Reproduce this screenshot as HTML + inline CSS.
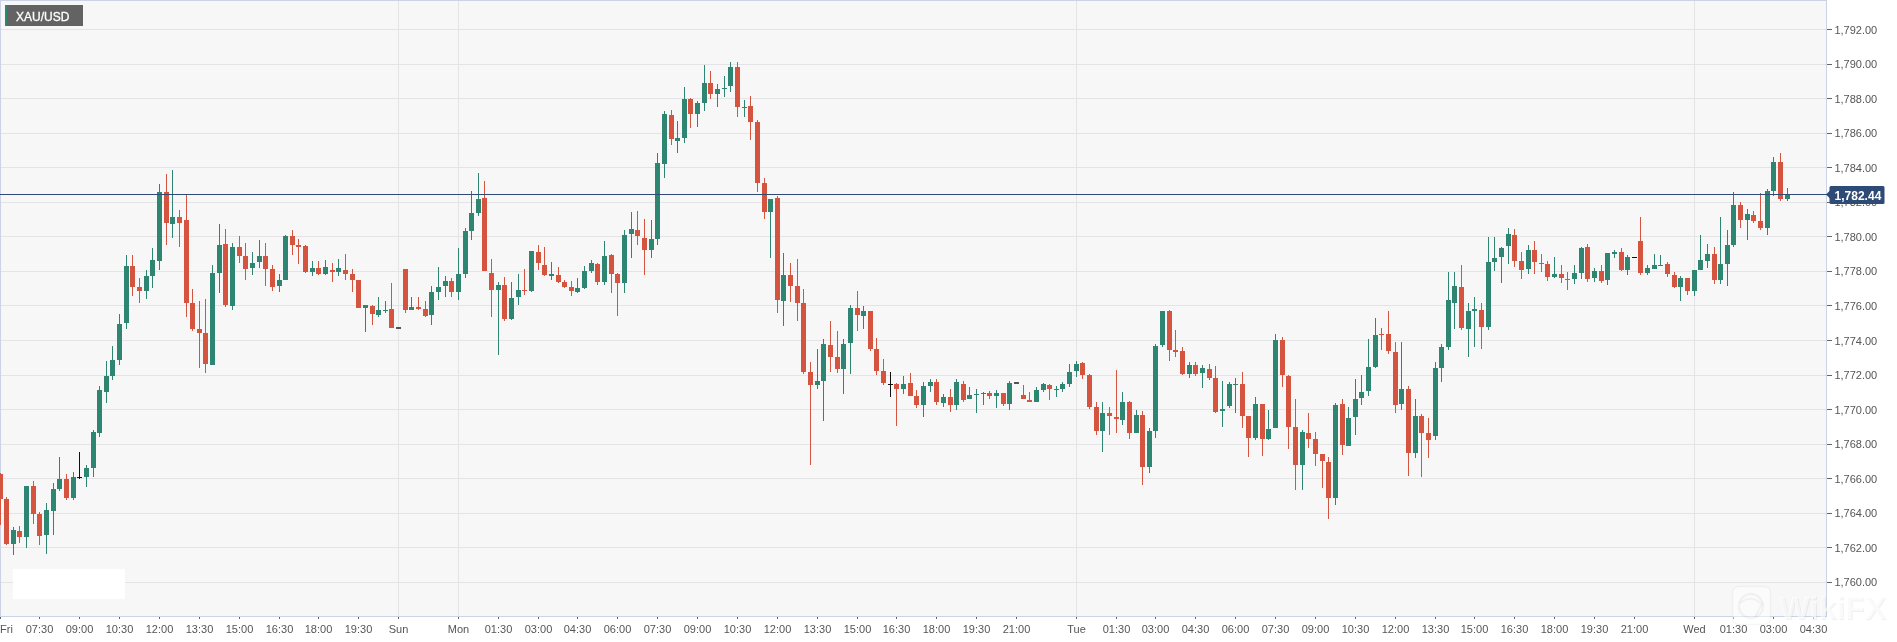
<!DOCTYPE html><html><head><meta charset="utf-8"><title>XAU/USD</title>
<style>
html,body{margin:0;padding:0;background:#fff;}
body{width:1897px;height:642px;overflow:hidden;position:relative;font-family:"Liberation Sans",sans-serif;}
svg{position:absolute;left:0;top:0;will-change:transform;}
text{font-family:"Liberation Sans",sans-serif;}
</style></head><body>
<svg width="1897" height="642" viewBox="0 0 1897 642">
<rect x="0" y="0" width="1827" height="617" fill="#f7f7f7"/>
<g stroke="#e4e4e7" stroke-width="1" shape-rendering="crispEdges">
<line x1="0" y1="29.5" x2="1826" y2="29.5"/>
<line x1="0" y1="64.5" x2="1826" y2="64.5"/>
<line x1="0" y1="98.5" x2="1826" y2="98.5"/>
<line x1="0" y1="133.5" x2="1826" y2="133.5"/>
<line x1="0" y1="167.5" x2="1826" y2="167.5"/>
<line x1="0" y1="202.5" x2="1826" y2="202.5"/>
<line x1="0" y1="236.5" x2="1826" y2="236.5"/>
<line x1="0" y1="271.5" x2="1826" y2="271.5"/>
<line x1="0" y1="305.5" x2="1826" y2="305.5"/>
<line x1="0" y1="340.5" x2="1826" y2="340.5"/>
<line x1="0" y1="375.5" x2="1826" y2="375.5"/>
<line x1="0" y1="409.5" x2="1826" y2="409.5"/>
<line x1="0" y1="444.5" x2="1826" y2="444.5"/>
<line x1="0" y1="478.5" x2="1826" y2="478.5"/>
<line x1="0" y1="513.5" x2="1826" y2="513.5"/>
<line x1="0" y1="547.5" x2="1826" y2="547.5"/>
<line x1="0" y1="582.5" x2="1826" y2="582.5"/>
<line x1="398.5" y1="0" x2="398.5" y2="616"/>
<line x1="458.5" y1="0" x2="458.5" y2="616"/>
<line x1="1076.5" y1="0" x2="1076.5" y2="616"/>
<line x1="1694.5" y1="0" x2="1694.5" y2="616"/>
</g>
<rect x="13" y="569" width="112" height="30" fill="#ffffff"/>
<g fill="#cdd3e6">
<rect x="0" y="0" width="1827" height="1"/>
<rect x="0" y="0" width="1" height="617"/>
<rect x="1826" y="0" width="1" height="617"/>
<rect x="0" y="616" width="1827" height="1"/>
</g>
<rect x="0" y="473" width="1" height="52" fill="#d4543f"/>
<rect x="-2" y="474" width="5" height="25" fill="#d4543f"/>
<rect x="6" y="497" width="1" height="48" fill="#d4543f"/>
<rect x="4" y="499" width="5" height="45" fill="#d4543f"/>
<rect x="13" y="527" width="1" height="28" fill="#2e8672"/>
<rect x="11" y="530" width="5" height="14" fill="#2e8672"/>
<rect x="19" y="526" width="1" height="17" fill="#d4543f"/>
<rect x="17" y="531" width="5" height="6" fill="#d4543f"/>
<rect x="26" y="486" width="1" height="62" fill="#2e8672"/>
<rect x="24" y="486" width="5" height="51" fill="#2e8672"/>
<rect x="33" y="481" width="1" height="43" fill="#d4543f"/>
<rect x="31" y="486" width="5" height="28" fill="#d4543f"/>
<rect x="39" y="512" width="1" height="33" fill="#d4543f"/>
<rect x="37" y="514" width="5" height="22" fill="#d4543f"/>
<rect x="46" y="503" width="1" height="51" fill="#2e8672"/>
<rect x="44" y="510" width="5" height="25" fill="#2e8672"/>
<rect x="53" y="483" width="1" height="52" fill="#2e8672"/>
<rect x="51" y="489" width="5" height="22" fill="#2e8672"/>
<rect x="59" y="457" width="1" height="34" fill="#2e8672"/>
<rect x="57" y="479" width="5" height="10" fill="#2e8672"/>
<rect x="66" y="474" width="1" height="26" fill="#d4543f"/>
<rect x="64" y="479" width="5" height="19" fill="#d4543f"/>
<rect x="73" y="472" width="1" height="28" fill="#2e8672"/>
<rect x="71" y="477" width="5" height="21" fill="#2e8672"/>
<rect x="79" y="452" width="1" height="27" fill="#111111"/>
<rect x="77" y="477" width="5" height="1" fill="#111111"/>
<rect x="86" y="465" width="1" height="22" fill="#2e8672"/>
<rect x="84" y="468" width="5" height="9" fill="#2e8672"/>
<rect x="93" y="430" width="1" height="47" fill="#2e8672"/>
<rect x="91" y="432" width="5" height="36" fill="#2e8672"/>
<rect x="99" y="386" width="1" height="51" fill="#2e8672"/>
<rect x="97" y="390" width="5" height="43" fill="#2e8672"/>
<rect x="106" y="361" width="1" height="42" fill="#2e8672"/>
<rect x="104" y="376" width="5" height="16" fill="#2e8672"/>
<rect x="112" y="346" width="1" height="34" fill="#2e8672"/>
<rect x="110" y="360" width="5" height="16" fill="#2e8672"/>
<rect x="119" y="314" width="1" height="51" fill="#2e8672"/>
<rect x="117" y="324" width="5" height="36" fill="#2e8672"/>
<rect x="126" y="255" width="1" height="74" fill="#2e8672"/>
<rect x="124" y="266" width="5" height="57" fill="#2e8672"/>
<rect x="132" y="255" width="1" height="41" fill="#d4543f"/>
<rect x="130" y="266" width="5" height="21" fill="#d4543f"/>
<rect x="139" y="278" width="1" height="25" fill="#d4543f"/>
<rect x="137" y="287" width="5" height="4" fill="#d4543f"/>
<rect x="146" y="270" width="1" height="29" fill="#2e8672"/>
<rect x="144" y="276" width="5" height="15" fill="#2e8672"/>
<rect x="152" y="248" width="1" height="40" fill="#2e8672"/>
<rect x="150" y="260" width="5" height="16" fill="#2e8672"/>
<rect x="159" y="184" width="1" height="86" fill="#2e8672"/>
<rect x="157" y="192" width="5" height="69" fill="#2e8672"/>
<rect x="166" y="174" width="1" height="71" fill="#d4543f"/>
<rect x="164" y="192" width="5" height="31" fill="#d4543f"/>
<rect x="172" y="170" width="1" height="68" fill="#2e8672"/>
<rect x="170" y="217" width="5" height="7" fill="#2e8672"/>
<rect x="179" y="210" width="1" height="37" fill="#d4543f"/>
<rect x="177" y="217" width="5" height="6" fill="#d4543f"/>
<rect x="186" y="195" width="1" height="122" fill="#d4543f"/>
<rect x="184" y="220" width="5" height="83" fill="#d4543f"/>
<rect x="192" y="289" width="1" height="42" fill="#d4543f"/>
<rect x="190" y="303" width="5" height="26" fill="#d4543f"/>
<rect x="199" y="301" width="1" height="67" fill="#d4543f"/>
<rect x="197" y="329" width="5" height="4" fill="#d4543f"/>
<rect x="205" y="299" width="1" height="74" fill="#d4543f"/>
<rect x="203" y="333" width="5" height="31" fill="#d4543f"/>
<rect x="212" y="265" width="1" height="100" fill="#2e8672"/>
<rect x="210" y="273" width="5" height="92" fill="#2e8672"/>
<rect x="219" y="224" width="1" height="69" fill="#2e8672"/>
<rect x="217" y="245" width="5" height="28" fill="#2e8672"/>
<rect x="225" y="229" width="1" height="78" fill="#d4543f"/>
<rect x="223" y="244" width="5" height="61" fill="#d4543f"/>
<rect x="232" y="243" width="1" height="67" fill="#2e8672"/>
<rect x="230" y="247" width="5" height="59" fill="#2e8672"/>
<rect x="239" y="236" width="1" height="27" fill="#d4543f"/>
<rect x="237" y="247" width="5" height="9" fill="#d4543f"/>
<rect x="245" y="243" width="1" height="37" fill="#d4543f"/>
<rect x="243" y="256" width="5" height="13" fill="#d4543f"/>
<rect x="252" y="252" width="1" height="23" fill="#2e8672"/>
<rect x="250" y="263" width="5" height="5" fill="#2e8672"/>
<rect x="259" y="240" width="1" height="28" fill="#2e8672"/>
<rect x="257" y="256" width="5" height="6" fill="#2e8672"/>
<rect x="265" y="243" width="1" height="43" fill="#d4543f"/>
<rect x="263" y="256" width="5" height="13" fill="#d4543f"/>
<rect x="272" y="265" width="1" height="26" fill="#d4543f"/>
<rect x="270" y="269" width="5" height="18" fill="#d4543f"/>
<rect x="279" y="274" width="1" height="18" fill="#2e8672"/>
<rect x="277" y="280" width="5" height="6" fill="#2e8672"/>
<rect x="285" y="235" width="1" height="45" fill="#2e8672"/>
<rect x="283" y="236" width="5" height="44" fill="#2e8672"/>
<rect x="292" y="230" width="1" height="25" fill="#d4543f"/>
<rect x="290" y="236" width="5" height="9" fill="#d4543f"/>
<rect x="298" y="239" width="1" height="25" fill="#d4543f"/>
<rect x="296" y="245" width="5" height="2" fill="#d4543f"/>
<rect x="305" y="245" width="1" height="28" fill="#d4543f"/>
<rect x="303" y="246" width="5" height="26" fill="#d4543f"/>
<rect x="312" y="261" width="1" height="15" fill="#2e8672"/>
<rect x="310" y="268" width="5" height="4" fill="#2e8672"/>
<rect x="318" y="261" width="1" height="14" fill="#d4543f"/>
<rect x="316" y="268" width="5" height="6" fill="#d4543f"/>
<rect x="325" y="260" width="1" height="15" fill="#2e8672"/>
<rect x="323" y="267" width="5" height="7" fill="#2e8672"/>
<rect x="332" y="263" width="1" height="19" fill="#d4543f"/>
<rect x="330" y="270" width="5" height="2" fill="#d4543f"/>
<rect x="338" y="259" width="1" height="17" fill="#2e8672"/>
<rect x="336" y="268" width="5" height="4" fill="#2e8672"/>
<rect x="345" y="254" width="1" height="26" fill="#d4543f"/>
<rect x="343" y="270" width="5" height="4" fill="#d4543f"/>
<rect x="352" y="269" width="1" height="23" fill="#d4543f"/>
<rect x="350" y="274" width="5" height="6" fill="#d4543f"/>
<rect x="358" y="280" width="1" height="28" fill="#d4543f"/>
<rect x="356" y="280" width="5" height="28" fill="#d4543f"/>
<rect x="365" y="305" width="1" height="27" fill="#2e8672"/>
<rect x="363" y="305" width="5" height="3" fill="#2e8672"/>
<rect x="372" y="305" width="1" height="20" fill="#d4543f"/>
<rect x="370" y="306" width="5" height="8" fill="#d4543f"/>
<rect x="378" y="297" width="1" height="20" fill="#2e8672"/>
<rect x="376" y="310" width="5" height="5" fill="#2e8672"/>
<rect x="385" y="301" width="1" height="12" fill="#2e8672"/>
<rect x="383" y="310" width="5" height="1" fill="#2e8672"/>
<rect x="391" y="283" width="1" height="45" fill="#d4543f"/>
<rect x="389" y="309" width="5" height="19" fill="#d4543f"/>
<rect x="396" y="327" width="5" height="2" fill="#555555"/>
<rect x="405" y="269" width="1" height="44" fill="#d4543f"/>
<rect x="403" y="269" width="5" height="41" fill="#d4543f"/>
<rect x="411" y="297" width="1" height="13" fill="#2e8672"/>
<rect x="409" y="307" width="5" height="3" fill="#2e8672"/>
<rect x="418" y="297" width="1" height="13" fill="#d4543f"/>
<rect x="416" y="307" width="5" height="2" fill="#d4543f"/>
<rect x="425" y="301" width="1" height="16" fill="#d4543f"/>
<rect x="423" y="309" width="5" height="7" fill="#d4543f"/>
<rect x="431" y="286" width="1" height="39" fill="#2e8672"/>
<rect x="429" y="292" width="5" height="23" fill="#2e8672"/>
<rect x="438" y="267" width="1" height="33" fill="#2e8672"/>
<rect x="436" y="287" width="5" height="5" fill="#2e8672"/>
<rect x="445" y="276" width="1" height="21" fill="#2e8672"/>
<rect x="443" y="281" width="5" height="5" fill="#2e8672"/>
<rect x="451" y="278" width="1" height="19" fill="#d4543f"/>
<rect x="449" y="281" width="5" height="11" fill="#d4543f"/>
<rect x="458" y="248" width="1" height="52" fill="#2e8672"/>
<rect x="456" y="274" width="5" height="18" fill="#2e8672"/>
<rect x="465" y="228" width="1" height="50" fill="#2e8672"/>
<rect x="463" y="231" width="5" height="43" fill="#2e8672"/>
<rect x="471" y="191" width="1" height="49" fill="#2e8672"/>
<rect x="469" y="213" width="5" height="18" fill="#2e8672"/>
<rect x="478" y="173" width="1" height="43" fill="#2e8672"/>
<rect x="476" y="199" width="5" height="14" fill="#2e8672"/>
<rect x="484" y="181" width="1" height="90" fill="#d4543f"/>
<rect x="482" y="198" width="5" height="73" fill="#d4543f"/>
<rect x="491" y="259" width="1" height="58" fill="#d4543f"/>
<rect x="489" y="273" width="5" height="17" fill="#d4543f"/>
<rect x="498" y="282" width="1" height="73" fill="#2e8672"/>
<rect x="496" y="285" width="5" height="5" fill="#2e8672"/>
<rect x="504" y="277" width="1" height="44" fill="#d4543f"/>
<rect x="502" y="285" width="5" height="34" fill="#d4543f"/>
<rect x="511" y="282" width="1" height="38" fill="#2e8672"/>
<rect x="509" y="298" width="5" height="21" fill="#2e8672"/>
<rect x="518" y="274" width="1" height="31" fill="#2e8672"/>
<rect x="516" y="290" width="5" height="7" fill="#2e8672"/>
<rect x="524" y="269" width="1" height="26" fill="#d4543f"/>
<rect x="522" y="290" width="5" height="1" fill="#d4543f"/>
<rect x="531" y="251" width="1" height="41" fill="#2e8672"/>
<rect x="529" y="251" width="5" height="40" fill="#2e8672"/>
<rect x="538" y="245" width="1" height="25" fill="#d4543f"/>
<rect x="536" y="252" width="5" height="11" fill="#d4543f"/>
<rect x="544" y="247" width="1" height="29" fill="#d4543f"/>
<rect x="542" y="265" width="5" height="10" fill="#d4543f"/>
<rect x="551" y="262" width="1" height="18" fill="#2e8672"/>
<rect x="549" y="274" width="5" height="2" fill="#2e8672"/>
<rect x="558" y="267" width="1" height="16" fill="#d4543f"/>
<rect x="556" y="275" width="5" height="7" fill="#d4543f"/>
<rect x="564" y="280" width="1" height="8" fill="#d4543f"/>
<rect x="562" y="282" width="5" height="5" fill="#d4543f"/>
<rect x="571" y="281" width="1" height="15" fill="#d4543f"/>
<rect x="569" y="287" width="5" height="4" fill="#d4543f"/>
<rect x="577" y="278" width="1" height="15" fill="#2e8672"/>
<rect x="575" y="288" width="5" height="4" fill="#2e8672"/>
<rect x="584" y="266" width="1" height="23" fill="#2e8672"/>
<rect x="582" y="271" width="5" height="17" fill="#2e8672"/>
<rect x="591" y="260" width="1" height="13" fill="#2e8672"/>
<rect x="589" y="263" width="5" height="8" fill="#2e8672"/>
<rect x="597" y="263" width="1" height="22" fill="#d4543f"/>
<rect x="595" y="264" width="5" height="18" fill="#d4543f"/>
<rect x="604" y="241" width="1" height="44" fill="#2e8672"/>
<rect x="602" y="256" width="5" height="26" fill="#2e8672"/>
<rect x="611" y="254" width="1" height="39" fill="#d4543f"/>
<rect x="609" y="255" width="5" height="19" fill="#d4543f"/>
<rect x="617" y="273" width="1" height="43" fill="#d4543f"/>
<rect x="615" y="274" width="5" height="9" fill="#d4543f"/>
<rect x="624" y="230" width="1" height="63" fill="#2e8672"/>
<rect x="622" y="235" width="5" height="48" fill="#2e8672"/>
<rect x="631" y="212" width="1" height="46" fill="#2e8672"/>
<rect x="629" y="229" width="5" height="5" fill="#2e8672"/>
<rect x="637" y="211" width="1" height="34" fill="#d4543f"/>
<rect x="635" y="230" width="5" height="6" fill="#d4543f"/>
<rect x="644" y="219" width="1" height="56" fill="#d4543f"/>
<rect x="642" y="238" width="5" height="12" fill="#d4543f"/>
<rect x="651" y="220" width="1" height="38" fill="#2e8672"/>
<rect x="649" y="239" width="5" height="11" fill="#2e8672"/>
<rect x="657" y="153" width="1" height="92" fill="#2e8672"/>
<rect x="655" y="163" width="5" height="76" fill="#2e8672"/>
<rect x="664" y="111" width="1" height="67" fill="#2e8672"/>
<rect x="662" y="114" width="5" height="50" fill="#2e8672"/>
<rect x="671" y="110" width="1" height="35" fill="#d4543f"/>
<rect x="669" y="115" width="5" height="24" fill="#d4543f"/>
<rect x="677" y="121" width="1" height="32" fill="#2e8672"/>
<rect x="675" y="138" width="5" height="3" fill="#2e8672"/>
<rect x="684" y="87" width="1" height="56" fill="#2e8672"/>
<rect x="682" y="99" width="5" height="39" fill="#2e8672"/>
<rect x="690" y="98" width="1" height="30" fill="#d4543f"/>
<rect x="688" y="99" width="5" height="15" fill="#d4543f"/>
<rect x="697" y="101" width="1" height="26" fill="#2e8672"/>
<rect x="695" y="103" width="5" height="11" fill="#2e8672"/>
<rect x="704" y="65" width="1" height="46" fill="#2e8672"/>
<rect x="702" y="83" width="5" height="20" fill="#2e8672"/>
<rect x="710" y="71" width="1" height="28" fill="#d4543f"/>
<rect x="708" y="83" width="5" height="11" fill="#d4543f"/>
<rect x="717" y="84" width="1" height="23" fill="#2e8672"/>
<rect x="715" y="89" width="5" height="5" fill="#2e8672"/>
<rect x="724" y="76" width="1" height="21" fill="#2e8672"/>
<rect x="722" y="88" width="5" height="1" fill="#2e8672"/>
<rect x="730" y="62" width="1" height="30" fill="#2e8672"/>
<rect x="728" y="67" width="5" height="19" fill="#2e8672"/>
<rect x="737" y="62" width="1" height="55" fill="#d4543f"/>
<rect x="735" y="67" width="5" height="40" fill="#d4543f"/>
<rect x="744" y="100" width="1" height="17" fill="#2e8672"/>
<rect x="742" y="107" width="5" height="1" fill="#2e8672"/>
<rect x="750" y="96" width="1" height="44" fill="#d4543f"/>
<rect x="748" y="106" width="5" height="16" fill="#d4543f"/>
<rect x="757" y="120" width="1" height="72" fill="#d4543f"/>
<rect x="755" y="122" width="5" height="61" fill="#d4543f"/>
<rect x="764" y="178" width="1" height="41" fill="#d4543f"/>
<rect x="762" y="183" width="5" height="29" fill="#d4543f"/>
<rect x="770" y="199" width="1" height="59" fill="#2e8672"/>
<rect x="768" y="199" width="5" height="13" fill="#2e8672"/>
<rect x="777" y="196" width="1" height="117" fill="#d4543f"/>
<rect x="775" y="198" width="5" height="102" fill="#d4543f"/>
<rect x="783" y="253" width="1" height="73" fill="#2e8672"/>
<rect x="781" y="275" width="5" height="26" fill="#2e8672"/>
<rect x="790" y="263" width="1" height="39" fill="#d4543f"/>
<rect x="788" y="275" width="5" height="11" fill="#d4543f"/>
<rect x="797" y="259" width="1" height="62" fill="#d4543f"/>
<rect x="795" y="286" width="5" height="17" fill="#d4543f"/>
<rect x="803" y="289" width="1" height="85" fill="#d4543f"/>
<rect x="801" y="303" width="5" height="69" fill="#d4543f"/>
<rect x="810" y="362" width="1" height="103" fill="#d4543f"/>
<rect x="808" y="372" width="5" height="13" fill="#d4543f"/>
<rect x="817" y="349" width="1" height="40" fill="#2e8672"/>
<rect x="815" y="381" width="5" height="4" fill="#2e8672"/>
<rect x="823" y="339" width="1" height="82" fill="#2e8672"/>
<rect x="821" y="344" width="5" height="37" fill="#2e8672"/>
<rect x="830" y="321" width="1" height="51" fill="#d4543f"/>
<rect x="828" y="345" width="5" height="12" fill="#d4543f"/>
<rect x="837" y="331" width="1" height="42" fill="#d4543f"/>
<rect x="835" y="357" width="5" height="12" fill="#d4543f"/>
<rect x="843" y="339" width="1" height="55" fill="#2e8672"/>
<rect x="841" y="344" width="5" height="25" fill="#2e8672"/>
<rect x="850" y="305" width="1" height="69" fill="#2e8672"/>
<rect x="848" y="308" width="5" height="35" fill="#2e8672"/>
<rect x="857" y="291" width="1" height="40" fill="#d4543f"/>
<rect x="855" y="308" width="5" height="7" fill="#d4543f"/>
<rect x="863" y="306" width="1" height="23" fill="#2e8672"/>
<rect x="861" y="311" width="5" height="5" fill="#2e8672"/>
<rect x="870" y="311" width="1" height="40" fill="#d4543f"/>
<rect x="868" y="311" width="5" height="38" fill="#d4543f"/>
<rect x="876" y="338" width="1" height="37" fill="#d4543f"/>
<rect x="874" y="349" width="5" height="22" fill="#d4543f"/>
<rect x="883" y="359" width="1" height="26" fill="#d4543f"/>
<rect x="881" y="371" width="5" height="12" fill="#d4543f"/>
<rect x="890" y="372" width="1" height="25" fill="#111111"/>
<rect x="888" y="384" width="5" height="1" fill="#111111"/>
<rect x="896" y="383" width="1" height="43" fill="#d4543f"/>
<rect x="894" y="384" width="5" height="5" fill="#d4543f"/>
<rect x="903" y="376" width="1" height="18" fill="#2e8672"/>
<rect x="901" y="384" width="5" height="5" fill="#2e8672"/>
<rect x="910" y="373" width="1" height="23" fill="#d4543f"/>
<rect x="908" y="383" width="5" height="13" fill="#d4543f"/>
<rect x="916" y="390" width="1" height="18" fill="#d4543f"/>
<rect x="914" y="396" width="5" height="9" fill="#d4543f"/>
<rect x="923" y="382" width="1" height="35" fill="#2e8672"/>
<rect x="921" y="386" width="5" height="19" fill="#2e8672"/>
<rect x="930" y="379" width="1" height="13" fill="#2e8672"/>
<rect x="928" y="382" width="5" height="4" fill="#2e8672"/>
<rect x="936" y="379" width="1" height="26" fill="#d4543f"/>
<rect x="934" y="382" width="5" height="20" fill="#d4543f"/>
<rect x="943" y="394" width="1" height="13" fill="#2e8672"/>
<rect x="941" y="397" width="5" height="6" fill="#2e8672"/>
<rect x="950" y="389" width="1" height="23" fill="#d4543f"/>
<rect x="948" y="397" width="5" height="8" fill="#d4543f"/>
<rect x="956" y="379" width="1" height="31" fill="#2e8672"/>
<rect x="954" y="382" width="5" height="23" fill="#2e8672"/>
<rect x="963" y="381" width="1" height="21" fill="#d4543f"/>
<rect x="961" y="384" width="5" height="16" fill="#d4543f"/>
<rect x="969" y="387" width="1" height="12" fill="#2e8672"/>
<rect x="967" y="395" width="5" height="4" fill="#2e8672"/>
<rect x="976" y="389" width="1" height="24" fill="#2e8672"/>
<rect x="974" y="394" width="5" height="1" fill="#2e8672"/>
<rect x="983" y="392" width="1" height="13" fill="#2e8672"/>
<rect x="981" y="393" width="5" height="1" fill="#2e8672"/>
<rect x="989" y="391" width="1" height="8" fill="#d4543f"/>
<rect x="987" y="393" width="5" height="3" fill="#d4543f"/>
<rect x="996" y="390" width="1" height="18" fill="#2e8672"/>
<rect x="994" y="393" width="5" height="3" fill="#2e8672"/>
<rect x="1003" y="393" width="1" height="13" fill="#d4543f"/>
<rect x="1001" y="393" width="5" height="11" fill="#d4543f"/>
<rect x="1009" y="381" width="1" height="29" fill="#2e8672"/>
<rect x="1007" y="383" width="5" height="21" fill="#2e8672"/>
<rect x="1014" y="382" width="5" height="2" fill="#555555"/>
<rect x="1023" y="385" width="1" height="14" fill="#d4543f"/>
<rect x="1021" y="395" width="5" height="4" fill="#d4543f"/>
<rect x="1029" y="392" width="1" height="10" fill="#d4543f"/>
<rect x="1027" y="400" width="5" height="2" fill="#d4543f"/>
<rect x="1036" y="387" width="1" height="15" fill="#2e8672"/>
<rect x="1034" y="390" width="5" height="12" fill="#2e8672"/>
<rect x="1043" y="383" width="1" height="9" fill="#2e8672"/>
<rect x="1041" y="384" width="5" height="6" fill="#2e8672"/>
<rect x="1049" y="384" width="1" height="16" fill="#d4543f"/>
<rect x="1047" y="385" width="5" height="4" fill="#d4543f"/>
<rect x="1056" y="386" width="1" height="11" fill="#2e8672"/>
<rect x="1054" y="389" width="5" height="1" fill="#2e8672"/>
<rect x="1062" y="382" width="1" height="10" fill="#2e8672"/>
<rect x="1060" y="384" width="5" height="5" fill="#2e8672"/>
<rect x="1069" y="364" width="1" height="23" fill="#2e8672"/>
<rect x="1067" y="372" width="5" height="12" fill="#2e8672"/>
<rect x="1076" y="361" width="1" height="16" fill="#2e8672"/>
<rect x="1074" y="364" width="5" height="7" fill="#2e8672"/>
<rect x="1082" y="362" width="1" height="17" fill="#d4543f"/>
<rect x="1080" y="363" width="5" height="12" fill="#d4543f"/>
<rect x="1089" y="374" width="1" height="35" fill="#d4543f"/>
<rect x="1087" y="375" width="5" height="32" fill="#d4543f"/>
<rect x="1096" y="402" width="1" height="33" fill="#d4543f"/>
<rect x="1094" y="407" width="5" height="24" fill="#d4543f"/>
<rect x="1102" y="402" width="1" height="50" fill="#2e8672"/>
<rect x="1100" y="413" width="5" height="18" fill="#2e8672"/>
<rect x="1109" y="407" width="1" height="28" fill="#d4543f"/>
<rect x="1107" y="413" width="5" height="3" fill="#d4543f"/>
<rect x="1116" y="370" width="1" height="63" fill="#d4543f"/>
<rect x="1114" y="417" width="5" height="2" fill="#d4543f"/>
<rect x="1122" y="392" width="1" height="33" fill="#2e8672"/>
<rect x="1120" y="402" width="5" height="18" fill="#2e8672"/>
<rect x="1129" y="401" width="1" height="38" fill="#d4543f"/>
<rect x="1127" y="402" width="5" height="31" fill="#d4543f"/>
<rect x="1136" y="410" width="1" height="23" fill="#2e8672"/>
<rect x="1134" y="415" width="5" height="18" fill="#2e8672"/>
<rect x="1142" y="411" width="1" height="74" fill="#d4543f"/>
<rect x="1140" y="415" width="5" height="52" fill="#d4543f"/>
<rect x="1149" y="428" width="1" height="45" fill="#2e8672"/>
<rect x="1147" y="431" width="5" height="36" fill="#2e8672"/>
<rect x="1155" y="344" width="1" height="94" fill="#2e8672"/>
<rect x="1153" y="346" width="5" height="85" fill="#2e8672"/>
<rect x="1162" y="311" width="1" height="36" fill="#2e8672"/>
<rect x="1160" y="311" width="5" height="34" fill="#2e8672"/>
<rect x="1169" y="310" width="1" height="51" fill="#d4543f"/>
<rect x="1167" y="311" width="5" height="39" fill="#d4543f"/>
<rect x="1175" y="330" width="1" height="27" fill="#d4543f"/>
<rect x="1173" y="350" width="5" height="2" fill="#d4543f"/>
<rect x="1182" y="347" width="1" height="28" fill="#d4543f"/>
<rect x="1180" y="351" width="5" height="23" fill="#d4543f"/>
<rect x="1189" y="362" width="1" height="16" fill="#2e8672"/>
<rect x="1187" y="365" width="5" height="9" fill="#2e8672"/>
<rect x="1195" y="362" width="1" height="14" fill="#d4543f"/>
<rect x="1193" y="365" width="5" height="9" fill="#d4543f"/>
<rect x="1202" y="365" width="1" height="23" fill="#2e8672"/>
<rect x="1200" y="368" width="5" height="5" fill="#2e8672"/>
<rect x="1209" y="364" width="1" height="16" fill="#d4543f"/>
<rect x="1207" y="369" width="5" height="9" fill="#d4543f"/>
<rect x="1215" y="366" width="1" height="47" fill="#d4543f"/>
<rect x="1213" y="378" width="5" height="34" fill="#d4543f"/>
<rect x="1222" y="381" width="1" height="46" fill="#2e8672"/>
<rect x="1220" y="409" width="5" height="2" fill="#2e8672"/>
<rect x="1229" y="382" width="1" height="26" fill="#2e8672"/>
<rect x="1227" y="384" width="5" height="22" fill="#2e8672"/>
<rect x="1235" y="378" width="1" height="35" fill="#2e8672"/>
<rect x="1233" y="384" width="5" height="1" fill="#2e8672"/>
<rect x="1242" y="372" width="1" height="56" fill="#d4543f"/>
<rect x="1240" y="384" width="5" height="32" fill="#d4543f"/>
<rect x="1248" y="416" width="1" height="41" fill="#d4543f"/>
<rect x="1246" y="416" width="5" height="22" fill="#d4543f"/>
<rect x="1255" y="397" width="1" height="43" fill="#2e8672"/>
<rect x="1253" y="404" width="5" height="34" fill="#2e8672"/>
<rect x="1262" y="404" width="1" height="52" fill="#d4543f"/>
<rect x="1260" y="404" width="5" height="35" fill="#d4543f"/>
<rect x="1268" y="410" width="1" height="30" fill="#2e8672"/>
<rect x="1266" y="429" width="5" height="10" fill="#2e8672"/>
<rect x="1275" y="334" width="1" height="94" fill="#2e8672"/>
<rect x="1273" y="340" width="5" height="88" fill="#2e8672"/>
<rect x="1282" y="337" width="1" height="50" fill="#d4543f"/>
<rect x="1280" y="340" width="5" height="35" fill="#d4543f"/>
<rect x="1288" y="375" width="1" height="74" fill="#d4543f"/>
<rect x="1286" y="376" width="5" height="51" fill="#d4543f"/>
<rect x="1295" y="399" width="1" height="91" fill="#d4543f"/>
<rect x="1293" y="427" width="5" height="38" fill="#d4543f"/>
<rect x="1302" y="430" width="1" height="60" fill="#2e8672"/>
<rect x="1300" y="432" width="5" height="33" fill="#2e8672"/>
<rect x="1308" y="413" width="1" height="35" fill="#d4543f"/>
<rect x="1306" y="433" width="5" height="6" fill="#d4543f"/>
<rect x="1315" y="432" width="1" height="34" fill="#d4543f"/>
<rect x="1313" y="439" width="5" height="15" fill="#d4543f"/>
<rect x="1322" y="454" width="1" height="34" fill="#d4543f"/>
<rect x="1320" y="454" width="5" height="7" fill="#d4543f"/>
<rect x="1328" y="457" width="1" height="62" fill="#d4543f"/>
<rect x="1326" y="462" width="5" height="36" fill="#d4543f"/>
<rect x="1335" y="403" width="1" height="102" fill="#2e8672"/>
<rect x="1333" y="405" width="5" height="93" fill="#2e8672"/>
<rect x="1342" y="399" width="1" height="56" fill="#d4543f"/>
<rect x="1340" y="404" width="5" height="41" fill="#d4543f"/>
<rect x="1348" y="407" width="1" height="39" fill="#2e8672"/>
<rect x="1346" y="418" width="5" height="28" fill="#2e8672"/>
<rect x="1355" y="379" width="1" height="56" fill="#2e8672"/>
<rect x="1353" y="399" width="5" height="18" fill="#2e8672"/>
<rect x="1361" y="375" width="1" height="30" fill="#2e8672"/>
<rect x="1359" y="392" width="5" height="6" fill="#2e8672"/>
<rect x="1368" y="339" width="1" height="57" fill="#2e8672"/>
<rect x="1366" y="367" width="5" height="24" fill="#2e8672"/>
<rect x="1375" y="318" width="1" height="50" fill="#2e8672"/>
<rect x="1373" y="335" width="5" height="32" fill="#2e8672"/>
<rect x="1381" y="328" width="1" height="22" fill="#d4543f"/>
<rect x="1379" y="334" width="5" height="1" fill="#d4543f"/>
<rect x="1388" y="311" width="1" height="43" fill="#d4543f"/>
<rect x="1386" y="334" width="5" height="17" fill="#d4543f"/>
<rect x="1395" y="342" width="1" height="71" fill="#d4543f"/>
<rect x="1393" y="352" width="5" height="53" fill="#d4543f"/>
<rect x="1401" y="342" width="1" height="68" fill="#2e8672"/>
<rect x="1399" y="389" width="5" height="15" fill="#2e8672"/>
<rect x="1408" y="386" width="1" height="90" fill="#d4543f"/>
<rect x="1406" y="389" width="5" height="64" fill="#d4543f"/>
<rect x="1415" y="399" width="1" height="59" fill="#2e8672"/>
<rect x="1413" y="416" width="5" height="37" fill="#2e8672"/>
<rect x="1421" y="414" width="1" height="63" fill="#d4543f"/>
<rect x="1419" y="416" width="5" height="17" fill="#d4543f"/>
<rect x="1428" y="418" width="1" height="40" fill="#d4543f"/>
<rect x="1426" y="433" width="5" height="7" fill="#d4543f"/>
<rect x="1435" y="362" width="1" height="78" fill="#2e8672"/>
<rect x="1433" y="368" width="5" height="68" fill="#2e8672"/>
<rect x="1441" y="344" width="1" height="38" fill="#2e8672"/>
<rect x="1439" y="347" width="5" height="21" fill="#2e8672"/>
<rect x="1448" y="272" width="1" height="78" fill="#2e8672"/>
<rect x="1446" y="300" width="5" height="47" fill="#2e8672"/>
<rect x="1454" y="272" width="1" height="57" fill="#2e8672"/>
<rect x="1452" y="286" width="5" height="17" fill="#2e8672"/>
<rect x="1461" y="265" width="1" height="65" fill="#d4543f"/>
<rect x="1459" y="287" width="5" height="41" fill="#d4543f"/>
<rect x="1468" y="303" width="1" height="54" fill="#2e8672"/>
<rect x="1466" y="311" width="5" height="18" fill="#2e8672"/>
<rect x="1474" y="297" width="1" height="50" fill="#2e8672"/>
<rect x="1472" y="309" width="5" height="2" fill="#2e8672"/>
<rect x="1481" y="303" width="1" height="46" fill="#d4543f"/>
<rect x="1479" y="310" width="5" height="17" fill="#d4543f"/>
<rect x="1488" y="237" width="1" height="93" fill="#2e8672"/>
<rect x="1486" y="262" width="5" height="65" fill="#2e8672"/>
<rect x="1494" y="237" width="1" height="34" fill="#2e8672"/>
<rect x="1492" y="258" width="5" height="4" fill="#2e8672"/>
<rect x="1501" y="247" width="1" height="36" fill="#2e8672"/>
<rect x="1499" y="248" width="5" height="9" fill="#2e8672"/>
<rect x="1508" y="228" width="1" height="36" fill="#2e8672"/>
<rect x="1506" y="234" width="5" height="12" fill="#2e8672"/>
<rect x="1514" y="229" width="1" height="38" fill="#d4543f"/>
<rect x="1512" y="235" width="5" height="26" fill="#d4543f"/>
<rect x="1521" y="252" width="1" height="27" fill="#d4543f"/>
<rect x="1519" y="261" width="5" height="9" fill="#d4543f"/>
<rect x="1528" y="245" width="1" height="29" fill="#2e8672"/>
<rect x="1526" y="250" width="5" height="19" fill="#2e8672"/>
<rect x="1534" y="241" width="1" height="33" fill="#d4543f"/>
<rect x="1532" y="250" width="5" height="12" fill="#d4543f"/>
<rect x="1541" y="254" width="1" height="18" fill="#d4543f"/>
<rect x="1539" y="263" width="5" height="1" fill="#d4543f"/>
<rect x="1547" y="261" width="1" height="20" fill="#d4543f"/>
<rect x="1545" y="264" width="5" height="13" fill="#d4543f"/>
<rect x="1554" y="257" width="1" height="21" fill="#2e8672"/>
<rect x="1552" y="274" width="5" height="3" fill="#2e8672"/>
<rect x="1561" y="265" width="1" height="18" fill="#d4543f"/>
<rect x="1559" y="274" width="5" height="4" fill="#d4543f"/>
<rect x="1567" y="272" width="1" height="18" fill="#d4543f"/>
<rect x="1565" y="279" width="5" height="1" fill="#d4543f"/>
<rect x="1574" y="265" width="1" height="19" fill="#2e8672"/>
<rect x="1572" y="273" width="5" height="6" fill="#2e8672"/>
<rect x="1581" y="247" width="1" height="32" fill="#2e8672"/>
<rect x="1579" y="248" width="5" height="25" fill="#2e8672"/>
<rect x="1587" y="244" width="1" height="38" fill="#d4543f"/>
<rect x="1585" y="247" width="5" height="32" fill="#d4543f"/>
<rect x="1594" y="268" width="1" height="14" fill="#2e8672"/>
<rect x="1592" y="271" width="5" height="7" fill="#2e8672"/>
<rect x="1601" y="265" width="1" height="18" fill="#d4543f"/>
<rect x="1599" y="271" width="5" height="10" fill="#d4543f"/>
<rect x="1607" y="253" width="1" height="32" fill="#2e8672"/>
<rect x="1605" y="253" width="5" height="27" fill="#2e8672"/>
<rect x="1614" y="250" width="1" height="8" fill="#2e8672"/>
<rect x="1612" y="252" width="5" height="2" fill="#2e8672"/>
<rect x="1621" y="248" width="1" height="23" fill="#d4543f"/>
<rect x="1619" y="252" width="5" height="18" fill="#d4543f"/>
<rect x="1627" y="255" width="1" height="20" fill="#2e8672"/>
<rect x="1625" y="257" width="5" height="13" fill="#2e8672"/>
<rect x="1632" y="257" width="5" height="1" fill="#111111"/>
<rect x="1640" y="217" width="1" height="58" fill="#d4543f"/>
<rect x="1638" y="241" width="5" height="32" fill="#d4543f"/>
<rect x="1647" y="265" width="1" height="10" fill="#2e8672"/>
<rect x="1645" y="268" width="5" height="5" fill="#2e8672"/>
<rect x="1654" y="254" width="1" height="15" fill="#2e8672"/>
<rect x="1652" y="265" width="5" height="4" fill="#2e8672"/>
<rect x="1660" y="255" width="1" height="11" fill="#2e8672"/>
<rect x="1658" y="265" width="5" height="1" fill="#2e8672"/>
<rect x="1667" y="262" width="1" height="15" fill="#d4543f"/>
<rect x="1665" y="264" width="5" height="10" fill="#d4543f"/>
<rect x="1674" y="272" width="1" height="16" fill="#d4543f"/>
<rect x="1672" y="275" width="5" height="12" fill="#d4543f"/>
<rect x="1680" y="276" width="1" height="25" fill="#2e8672"/>
<rect x="1678" y="278" width="5" height="9" fill="#2e8672"/>
<rect x="1687" y="278" width="1" height="17" fill="#d4543f"/>
<rect x="1685" y="278" width="5" height="13" fill="#d4543f"/>
<rect x="1694" y="270" width="1" height="26" fill="#2e8672"/>
<rect x="1692" y="270" width="5" height="21" fill="#2e8672"/>
<rect x="1700" y="235" width="1" height="35" fill="#2e8672"/>
<rect x="1698" y="260" width="5" height="10" fill="#2e8672"/>
<rect x="1707" y="244" width="1" height="24" fill="#2e8672"/>
<rect x="1705" y="254" width="5" height="7" fill="#2e8672"/>
<rect x="1714" y="247" width="1" height="37" fill="#d4543f"/>
<rect x="1712" y="254" width="5" height="26" fill="#d4543f"/>
<rect x="1720" y="217" width="1" height="67" fill="#2e8672"/>
<rect x="1718" y="264" width="5" height="16" fill="#2e8672"/>
<rect x="1727" y="230" width="1" height="56" fill="#2e8672"/>
<rect x="1725" y="245" width="5" height="19" fill="#2e8672"/>
<rect x="1733" y="192" width="1" height="55" fill="#2e8672"/>
<rect x="1731" y="205" width="5" height="40" fill="#2e8672"/>
<rect x="1740" y="202" width="1" height="26" fill="#d4543f"/>
<rect x="1738" y="205" width="5" height="15" fill="#d4543f"/>
<rect x="1747" y="209" width="1" height="31" fill="#2e8672"/>
<rect x="1745" y="214" width="5" height="6" fill="#2e8672"/>
<rect x="1753" y="211" width="1" height="12" fill="#d4543f"/>
<rect x="1751" y="215" width="5" height="6" fill="#d4543f"/>
<rect x="1760" y="193" width="1" height="37" fill="#d4543f"/>
<rect x="1758" y="221" width="5" height="7" fill="#d4543f"/>
<rect x="1767" y="189" width="1" height="46" fill="#2e8672"/>
<rect x="1765" y="191" width="5" height="37" fill="#2e8672"/>
<rect x="1773" y="157" width="1" height="39" fill="#2e8672"/>
<rect x="1771" y="162" width="5" height="29" fill="#2e8672"/>
<rect x="1780" y="153" width="1" height="48" fill="#d4543f"/>
<rect x="1778" y="162" width="5" height="37" fill="#d4543f"/>
<rect x="1787" y="188" width="1" height="13" fill="#2e8672"/>
<rect x="1785" y="194" width="5" height="5" fill="#2e8672"/>
<rect x="0" y="194" width="1827" height="1" fill="#2f4a73"/>
<g fill="#555555" font-size="11">
<rect x="1827" y="29" width="5" height="1" fill="#666"/>
<text x="1834.4" y="34">1,792.00</text>
<rect x="1827" y="64" width="5" height="1" fill="#666"/>
<text x="1834.4" y="68">1,790.00</text>
<rect x="1827" y="98" width="5" height="1" fill="#666"/>
<text x="1834.4" y="103">1,788.00</text>
<rect x="1827" y="133" width="5" height="1" fill="#666"/>
<text x="1834.4" y="137">1,786.00</text>
<rect x="1827" y="167" width="5" height="1" fill="#666"/>
<text x="1834.4" y="172">1,784.00</text>
<rect x="1827" y="202" width="5" height="1" fill="#666"/>
<text x="1834.4" y="206">1,782.00</text>
<rect x="1827" y="236" width="5" height="1" fill="#666"/>
<text x="1834.4" y="241">1,780.00</text>
<rect x="1827" y="271" width="5" height="1" fill="#666"/>
<text x="1834.4" y="275">1,778.00</text>
<rect x="1827" y="305" width="5" height="1" fill="#666"/>
<text x="1834.4" y="310">1,776.00</text>
<rect x="1827" y="340" width="5" height="1" fill="#666"/>
<text x="1834.4" y="345">1,774.00</text>
<rect x="1827" y="375" width="5" height="1" fill="#666"/>
<text x="1834.4" y="379">1,772.00</text>
<rect x="1827" y="409" width="5" height="1" fill="#666"/>
<text x="1834.4" y="414">1,770.00</text>
<rect x="1827" y="444" width="5" height="1" fill="#666"/>
<text x="1834.4" y="448">1,768.00</text>
<rect x="1827" y="478" width="5" height="1" fill="#666"/>
<text x="1834.4" y="483">1,766.00</text>
<rect x="1827" y="513" width="5" height="1" fill="#666"/>
<text x="1834.4" y="517">1,764.00</text>
<rect x="1827" y="547" width="5" height="1" fill="#666"/>
<text x="1834.4" y="552">1,762.00</text>
<rect x="1827" y="582" width="5" height="1" fill="#666"/>
<text x="1834.4" y="586">1,760.00</text>
</g>
<rect x="1829.5" y="186" width="55" height="18" rx="1.5" ry="1.5" fill="#2e4b75"/><path d="M1826 194.5 L1830 190.5 L1830 198.5 Z" fill="#2e4b75"/>
<text x="1834.6" y="200" font-size="12" font-weight="bold" fill="#ffffff">1,782.44</text>
<g fill="#555555" font-size="11" text-anchor="middle">
<rect x="0" y="617" width="1" height="2" fill="#666"/>
<text x="0" y="633" text-anchor="start">Fri</text>
<rect x="39" y="617" width="1" height="2" fill="#666"/>
<text x="39.5" y="633">07:30</text>
<rect x="79" y="617" width="1" height="2" fill="#666"/>
<text x="79.5" y="633">09:00</text>
<rect x="119" y="617" width="1" height="2" fill="#666"/>
<text x="119.5" y="633">10:30</text>
<rect x="159" y="617" width="1" height="2" fill="#666"/>
<text x="159.5" y="633">12:00</text>
<rect x="199" y="617" width="1" height="2" fill="#666"/>
<text x="199.5" y="633">13:30</text>
<rect x="239" y="617" width="1" height="2" fill="#666"/>
<text x="239.5" y="633">15:00</text>
<rect x="279" y="617" width="1" height="2" fill="#666"/>
<text x="279.5" y="633">16:30</text>
<rect x="318" y="617" width="1" height="2" fill="#666"/>
<text x="318.5" y="633">18:00</text>
<rect x="358" y="617" width="1" height="2" fill="#666"/>
<text x="358.5" y="633">19:30</text>
<rect x="398" y="617" width="1" height="2" fill="#666"/>
<text x="398.5" y="633">Sun</text>
<rect x="458" y="617" width="1" height="2" fill="#666"/>
<text x="458.5" y="633">Mon</text>
<rect x="498" y="617" width="1" height="2" fill="#666"/>
<text x="498.5" y="633">01:30</text>
<rect x="538" y="617" width="1" height="2" fill="#666"/>
<text x="538.5" y="633">03:00</text>
<rect x="577" y="617" width="1" height="2" fill="#666"/>
<text x="577.5" y="633">04:30</text>
<rect x="617" y="617" width="1" height="2" fill="#666"/>
<text x="617.5" y="633">06:00</text>
<rect x="657" y="617" width="1" height="2" fill="#666"/>
<text x="657.5" y="633">07:30</text>
<rect x="697" y="617" width="1" height="2" fill="#666"/>
<text x="697.5" y="633">09:00</text>
<rect x="737" y="617" width="1" height="2" fill="#666"/>
<text x="737.5" y="633">10:30</text>
<rect x="777" y="617" width="1" height="2" fill="#666"/>
<text x="777.5" y="633">12:00</text>
<rect x="817" y="617" width="1" height="2" fill="#666"/>
<text x="817.5" y="633">13:30</text>
<rect x="857" y="617" width="1" height="2" fill="#666"/>
<text x="857.5" y="633">15:00</text>
<rect x="896" y="617" width="1" height="2" fill="#666"/>
<text x="896.5" y="633">16:30</text>
<rect x="936" y="617" width="1" height="2" fill="#666"/>
<text x="936.5" y="633">18:00</text>
<rect x="976" y="617" width="1" height="2" fill="#666"/>
<text x="976.5" y="633">19:30</text>
<rect x="1016" y="617" width="1" height="2" fill="#666"/>
<text x="1016.5" y="633">21:00</text>
<rect x="1076" y="617" width="1" height="2" fill="#666"/>
<text x="1076.5" y="633">Tue</text>
<rect x="1116" y="617" width="1" height="2" fill="#666"/>
<text x="1116.5" y="633">01:30</text>
<rect x="1155" y="617" width="1" height="2" fill="#666"/>
<text x="1155.5" y="633">03:00</text>
<rect x="1195" y="617" width="1" height="2" fill="#666"/>
<text x="1195.5" y="633">04:30</text>
<rect x="1235" y="617" width="1" height="2" fill="#666"/>
<text x="1235.5" y="633">06:00</text>
<rect x="1275" y="617" width="1" height="2" fill="#666"/>
<text x="1275.5" y="633">07:30</text>
<rect x="1315" y="617" width="1" height="2" fill="#666"/>
<text x="1315.5" y="633">09:00</text>
<rect x="1355" y="617" width="1" height="2" fill="#666"/>
<text x="1355.5" y="633">10:30</text>
<rect x="1395" y="617" width="1" height="2" fill="#666"/>
<text x="1395.5" y="633">12:00</text>
<rect x="1435" y="617" width="1" height="2" fill="#666"/>
<text x="1435.5" y="633">13:30</text>
<rect x="1474" y="617" width="1" height="2" fill="#666"/>
<text x="1474.5" y="633">15:00</text>
<rect x="1514" y="617" width="1" height="2" fill="#666"/>
<text x="1514.5" y="633">16:30</text>
<rect x="1554" y="617" width="1" height="2" fill="#666"/>
<text x="1554.5" y="633">18:00</text>
<rect x="1594" y="617" width="1" height="2" fill="#666"/>
<text x="1594.5" y="633">19:30</text>
<rect x="1634" y="617" width="1" height="2" fill="#666"/>
<text x="1634.5" y="633">21:00</text>
<rect x="1694" y="617" width="1" height="2" fill="#666"/>
<text x="1694.5" y="633">Wed</text>
<rect x="1733" y="617" width="1" height="2" fill="#666"/>
<text x="1733.5" y="633">01:30</text>
<rect x="1773" y="617" width="1" height="2" fill="#666"/>
<text x="1773.5" y="633">03:00</text>
<rect x="1813" y="617" width="1" height="2" fill="#666"/>
<text x="1813.5" y="633">04:30</text>
</g>
<rect x="5" y="5" width="78" height="21" fill="#636363"/>
<rect x="5" y="5" width="2" height="21" fill="#2e8672"/>
<text x="16" y="20.5" font-size="12" fill="#ffffff" stroke="#ffffff" stroke-width="0.3">XAU/USD</text>
<g>
<rect x="1732.5" y="586.5" width="38" height="38" rx="6" ry="6" fill="#ffffff" fill-opacity="0.45" stroke="#000000" stroke-opacity="0.035" stroke-width="1.5"/>
<circle cx="1751" cy="606" r="12" fill="none" stroke="#000000" stroke-opacity="0.04" stroke-width="2.5"/>
<path d="M1740 603 Q1751 594 1762 604 L1755 617" fill="none" stroke="#000000" stroke-opacity="0.04" stroke-width="2"/>
<text x="1780.6" y="620" font-size="32" font-weight="bold" fill="#000000" fill-opacity="0.06">WikiFX</text>
<text x="1779.6" y="619" font-size="32" font-weight="bold" fill="#ffffff" fill-opacity="0.62">WikiFX</text>
</g>
</svg></body></html>
